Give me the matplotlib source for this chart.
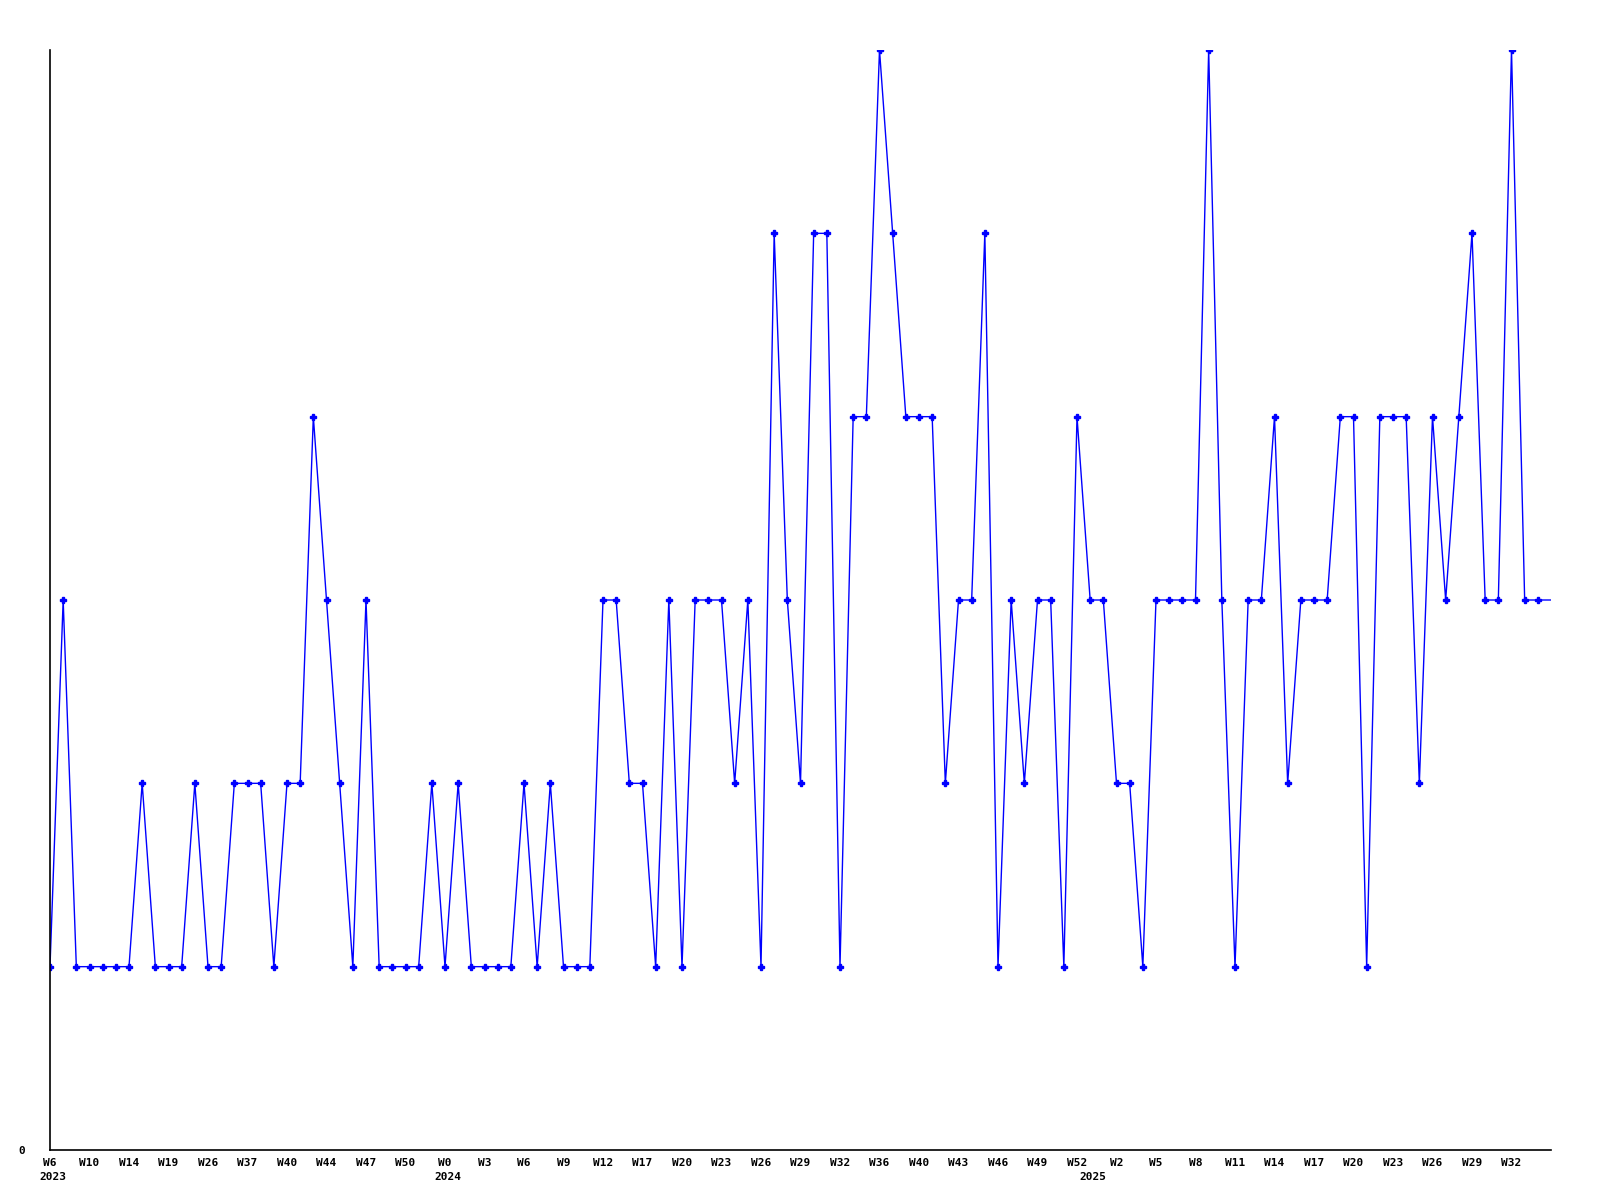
import numpy as np
import matplotlib
matplotlib.use("Agg")
import matplotlib.pyplot as plt
import matplotlib.transforms as mtransforms

# weekly counts, one per data point (left to right)
values = [1, 3, 1, 1, 1, 1, 1, 2, 1, 1,
          1, 2, 1, 1, 2, 2, 2, 1, 2, 2,
          4, 3, 2, 1, 3, 1, 1, 1, 1, 2,
          1, 2, 1, 1, 1, 1, 2, 1, 2, 1,
          1, 1, 3, 3, 2, 2, 1, 3, 1, 3,
          3, 3, 2, 3, 1, 5, 3, 2, 5, 5,
          1, 4, 4, 6, 5, 4, 4, 4, 2, 3,
          3, 5, 1, 3, 2, 3, 3, 1, 4, 3,
          3, 2, 2, 1, 3, 3, 3, 3, 6, 3,
          1, 3, 3, 4, 2, 3, 3, 3, 4, 4,
          1, 4, 4, 4, 2, 4, 3, 4, 5, 3,
          3, 6, 3, 3, 3]

# labels shown on every third point
week_labels = ["W6", "W10", "W14", "W19", "W26", "W37", "W40", "W44", "W47", "W50",
               "W0", "W3", "W6", "W9", "W12", "W17", "W20", "W23", "W26", "W29",
               "W32", "W36", "W40", "W43", "W46", "W49", "W52", "W2", "W5", "W8",
               "W11", "W14", "W17", "W20", "W23", "W26", "W29", "W32"]
years = ["2023", "2024", "2025"]
year_start = [0, 30, 79]

x = np.arange(len(values))

fig = plt.figure(figsize=(16, 12), dpi=100)
ax = fig.add_axes([50 / 1600, 50 / 1200, 1501 / 1600, 1100 / 1200])

ax.plot(x, values, color="#0000ff", lw=1.0, marker="P", ms=3.8,
        markevery=list(range(len(values) - 1)))

ax.set_xlim(0, len(values) - 1)
ax.set_ylim(0, 6)

for s in ["top", "right"]:
    ax.spines[s].set_visible(False)
for s in ["left", "bottom"]:
    ax.spines[s].set_linewidth(1.2)
    ax.spines[s].set_color("black")

font = dict(family="DejaVu Sans Mono", weight="bold", size=8)

ax.set_xticks(x[:-1:3][:len(week_labels)])
ax.set_xticklabels(week_labels, **font)
ax.tick_params(axis="x", length=0, pad=6)

ax.set_yticks([0])
ax.set_yticklabels(["0"], **font)
ax.tick_params(axis="y", length=0, pad=18)

shift = mtransforms.ScaledTranslation(3 / 100, -22 / 100, fig.dpi_scale_trans)
trans = mtransforms.blended_transform_factory(ax.transData, ax.transAxes) + shift
for yr, i in zip(years, year_start):
    ax.text(i, 0, yr, transform=trans, ha="center", va="top", **font)

fig.savefig("out.png", dpi=100)
